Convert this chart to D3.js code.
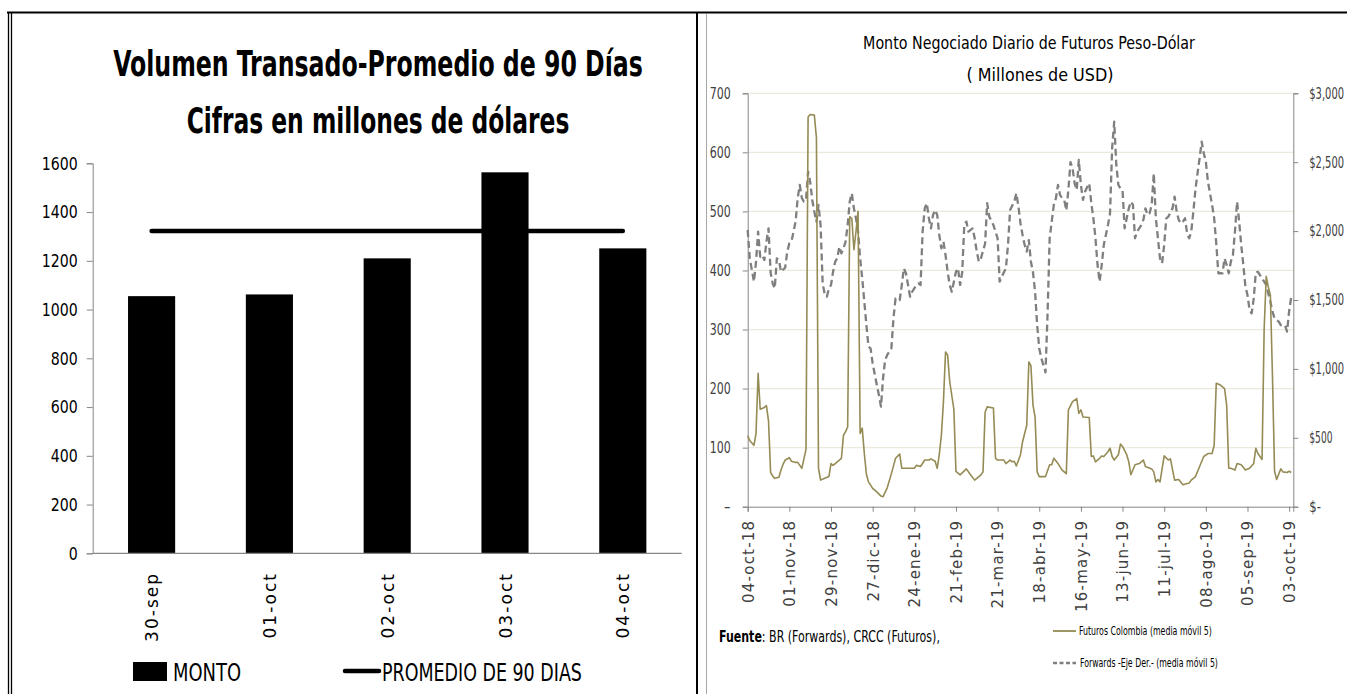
<!DOCTYPE html>
<html>
<head>
<meta charset="utf-8">
<script src="https://cdn.jsdelivr.net/npm/d3@7"></script>
<style>
  html, body { margin: 0; padding: 0; background: #fff; }
  svg { display: block; }
</style>
</head>
<body>
<svg id="chart" width="1347" height="694"></svg>
<script>
// ---- Volumen transado, últimos cinco días ----
const dias = ["30-sep", "01-oct", "02-oct", "03-oct", "04-oct"];
const monto = [1055, 1062, 1210, 1563, 1251];
const promedio90 = [1322, 1322, 1322, 1322, 1322];
const ticksVolumen = [0, 200, 400, 600, 800, 1000, 1200, 1400, 1600];

// ---- Futuros peso-dólar vs forwards (media móvil 5), por sesión ----
const sesionTicks = [0, 20, 40, 60, 80, 100, 120, 140, 160, 180, 200, 220, 240, 260];
const fechaTicks = ["04-oct-18", "01-nov-18", "29-nov-18", "27-dic-18", "24-ene-19", "21-feb-19",
  "21-mar-19", "18-abr-19", "16-may-19", "13-jun-19", "11-jul-19", "08-ago-19", "05-sep-19", "03-oct-19"];
const ticksIzq = [0, 100, 200, 300, 400, 500, 600, 700];
const ticksDer = [0, 500, 1000, 1500, 2000, 2500, 3000];

const futurosSesion = [0,1,2,3,4,5,6,8,9,10,11,12,13,15,16,17,18,20,21,23,24,26,28,29,30,32,33,34,35,37,39,40,41,43,45,46,47,48,49,50,51,52,53,54,55,56,57,58,60,62,64,65,67,69,71,73,74,80,81,83,85,87,88,90,91,92,93,94,95,96,97,99,100,102,105,107,109,112,113,114,115,118,119,120,123,124,126,127,128,129,131,132,134,135,136,137,138,139,140,143,145,146,147,149,151,153,154,156,158,159,160,161,164,165,166,167,169,170,171,173,174,175,176,178,179,180,182,183,184,186,188,190,191,194,195,196,197,198,200,202,203,205,207,209,212,213,215,217,219,221,223,224,225,227,229,230,231,232,234,235,237,239,241,243,244,245,246,247,248,249,250,251,252,253,254,256,257,259,260,261];
const futurosMonto = [120,112,108,104,124,226,165,168,171,145,58,52,48,50,62,72,79,83,77,75,75,65,97,660,664,663,625,65,45,48,51,73,70,76,82,121,127,135,491,488,435,466,500,124,133,90,55,42,31,25,18,17,32,56,82,89,65,65,70,68,79,79,81,77,65,88,121,178,262,257,212,165,60,54,64,54,45,54,59,160,169,167,82,79,79,73,79,76,77,69,88,110,138,245,239,172,152,59,51,51,71,71,82,73,62,56,164,178,183,158,164,152,151,85,86,76,82,86,85,93,99,85,79,88,106,102,88,76,54,71,73,79,68,64,59,42,46,42,86,79,81,45,46,37,40,45,51,68,85,90,90,104,209,206,200,172,65,65,62,73,71,62,65,73,99,90,85,80,300,390,372,358,220,60,46,64,59,58,60,58];

const forwardsSesion = [0,1,3,4,5,6,7,8,9,10,11,12,13,14,15,16,18,19,20,21,22,23,24,25,26,27,28,29,30,31,32,33,34,35,36,37,38,39,40,41,42,43,44,45,46,47,48,49,50,51,52,53,54,55,56,57,58,59,60,62,63,64,65,66,67,69,70,71,73,74,75,76,77,78,79,81,82,83,84,85,86,87,88,89,90,91,92,93,94,95,96,97,98,100,101,102,103,104,105,106,108,109,110,111,112,114,115,116,118,120,121,122,124,125,126,128,129,130,131,132,133,134,135,136,137,138,139,140,141,142,143,144,145,146,147,148,149,150,151,152,153,154,155,156,157,158,159,160,161,162,163,164,165,166,167,168,169,170,171,172,173,174,175,176,177,178,179,180,181,182,183,184,185,186,187,188,189,190,191,192,193,194,195,196,197,198,199,200,201,202,204,205,206,207,208,209,210,211,212,213,214,215,216,217,218,219,220,221,223,224,225,226,228,229,230,231,232,233,234,235,236,237,238,239,240,241,242,243,244,245,246,247,248,249,250,251,252,253,254,255,256,258,259,260,261];
const forwardsMonto = [2008,1802,1633,1778,1996,1814,1826,1790,1923,2020,1700,1620,1584,1802,1790,1705,1735,1851,1911,1923,1996,2069,2238,2335,2240,2214,2226,2431,2359,2226,2141,2069,2190,2044,1620,1540,1524,1584,1609,1705,1778,1802,1887,1839,1875,1923,2044,2214,2274,2165,2093,1996,1802,1657,1488,1318,1161,1149,1040,883,811,726,932,1065,1101,1149,1367,1512,1500,1609,1730,1694,1609,1524,1560,1609,1621,1609,1996,2165,2202,2093,2020,2117,2153,2117,1972,1875,1923,1826,1705,1609,1560,1705,1730,1609,1700,2044,2069,1996,2020,1948,1851,1778,1802,1910,2202,2105,2044,1948,1633,1669,1730,1900,2153,2214,2274,2180,2056,1972,1899,1851,1935,1778,1700,1560,1318,1149,1077,1028,975,1400,1948,2069,2190,2238,2335,2262,2238,2226,2150,2300,2500,2456,2347,2299,2516,2335,2226,2286,2320,2347,2202,2093,1948,1754,1633,1754,1900,1972,2044,2130,2600,2794,2480,2335,2310,2299,2020,2093,2165,2214,2190,1948,1996,2020,2044,2081,2165,2117,2129,2190,2419,2093,1948,1800,1766,1900,2093,2105,2165,2250,2141,2081,2056,2069,2093,1984,1948,1996,2141,2300,2419,2528,2649,2565,2504,2359,2190,2093,1911,1694,1694,1802,1754,1694,1778,1826,2000,2214,2069,1899,1754,1600,1536,1427,1403,1512,1700,1705,1681,1657,1633,1609,1548,1488,1415,1367,1355,1343,1318,1318,1270,1420,1520];

const NARROW = "'Liberation Sans Narrow','Arial Narrow','DejaVu Sans Condensed',sans-serif";
const WIDE = "'DejaVu Sans',Verdana,sans-serif";

const svg = d3.select("#chart");

// Place a text at (x, y) and squeeze it horizontally to the given width,
// so the condensed look holds whatever face the system picks.
function fitText(sel, x, y, width) {
  sel.attr("x", 0).attr("y", 0);
  const w = sel.node().getComputedTextLength();
  const s = w > 0 ? width / w : 1;
  sel.attr("transform", `translate(${x},${y}) scale(${s},1)`);
  return sel;
}

// ---------- panel frames ----------
const frame = svg.append("g").attr("class", "frames");
frame.append("line").attr("x1", 7).attr("x2", 1347).attr("y1", 12.5).attr("y2", 12.5)
  .attr("stroke", "#000").attr("stroke-width", 2);
[8.5, 11.5].forEach(x => frame.append("line").attr("x1", x).attr("x2", x).attr("y1", 12).attr("y2", 694)
  .attr("stroke", "#000").attr("stroke-width", 1.3));
frame.append("line").attr("x1", 697).attr("x2", 697).attr("y1", 12).attr("y2", 694)
  .attr("stroke", "#000").attr("stroke-width", 2);
frame.append("line").attr("x1", 706.5).attr("x2", 706.5).attr("y1", 14).attr("y2", 694)
  .attr("stroke", "#a6a6a6").attr("stroke-width", 1);

// ---------- left panel: bars + 90-day average ----------
const left = svg.append("g").attr("class", "volumen");

fitText(left.append("text").attr("text-anchor", "middle")
  .attr("font-family", NARROW).attr("font-weight", "bold").attr("font-size", 36)
  .text("Volumen Transado-Promedio de 90 Días"), 378, 76, 530);
fitText(left.append("text").attr("text-anchor", "middle")
  .attr("font-family", NARROW).attr("font-weight", "bold").attr("font-size", 36)
  .text("Cifras en millones de dólares"), 378, 133, 383);

const xVol = d3.scaleBand().domain(dias).range([92.7, 681.7]).padding(0);
const yVol = d3.scaleLinear().domain([0, 1600]).range([553.3, 163.3]);
const barW = xVol.bandwidth() * 0.4;

left.selectAll("rect.bar").data(dias).join("rect").attr("class", "bar")
  .attr("x", d => xVol(d) + xVol.bandwidth() / 2 - barW / 2)
  .attr("width", barW)
  .attr("y", (d, i) => yVol(monto[i]))
  .attr("height", (d, i) => yVol(0) - yVol(monto[i]))
  .attr("fill", "#000");

const yAxVol = left.append("g").attr("transform", "translate(92.7,0)")
  .call(d3.axisLeft(yVol).tickValues(ticksVolumen).tickSize(6).tickPadding(9).tickFormat(d3.format("d")));
yAxVol.select(".domain").attr("stroke", "#868686");
yAxVol.selectAll(".tick line").attr("stroke", "#868686");
yAxVol.selectAll(".tick text").attr("font-family", NARROW).attr("font-size", 18.5).attr("fill", "#000")
  .each(function (d) { fitText(d3.select(this), -15, 0, String(d).length * 9); });

left.append("line").attr("x1", 92.7).attr("x2", 681.7).attr("y1", yVol(0)).attr("y2", yVol(0))
  .attr("stroke", "#868686").attr("stroke-width", 1.2);

const lineProm = d3.line().x((d, i) => xVol(dias[i]) + xVol.bandwidth() / 2).y(d => yVol(d));
left.append("path").datum(promedio90).attr("d", lineProm)
  .attr("fill", "none").attr("stroke", "#000").attr("stroke-width", 4.5).attr("stroke-linecap", "round");

left.selectAll("text.dia").data(dias).join("text").attr("class", "dia")
  .attr("transform", d => `translate(${xVol(d) + xVol.bandwidth() / 2 + 6.5},572) rotate(-90)`)
  .attr("text-anchor", "end").attr("font-family", WIDE).attr("font-size", 17)
  .attr("letter-spacing", 2).attr("fill", "#000").text(d => d);

// legend
left.append("rect").attr("x", 133).attr("y", 662).attr("width", 34).attr("height", 19).attr("fill", "#000");
fitText(left.append("text").attr("font-family", NARROW).attr("font-size", 24).text("MONTO"), 173, 681, 68);
left.append("line").attr("x1", 345).attr("x2", 379).attr("y1", 671).attr("y2", 671)
  .attr("stroke", "#000").attr("stroke-width", 4.5).attr("stroke-linecap", "round");
fitText(left.append("text").attr("font-family", NARROW).attr("font-size", 24)
  .text("PROMEDIO DE 90 DIAS"), 382, 681, 200);

// ---------- right panel: futures vs forwards ----------
const right = svg.append("g").attr("class", "futuros");

fitText(right.append("text").attr("text-anchor", "middle")
  .attr("font-family", NARROW).attr("font-size", 17.5).attr("fill", "#000")
  .text("Monto Negociado Diario de Futuros Peso-Dólar"), 1029, 49, 332);
fitText(right.append("text").attr("text-anchor", "middle")
  .attr("font-family", NARROW).attr("font-size", 17.5).attr("fill", "#000")
  .text("( Millones de USD)"), 1040, 81, 147);

const x = d3.scaleLinear().domain([0, 262]).range([747.7, 1293.3]);
const yIzq = d3.scaleLinear().domain([0, 700]).range([506.7, 93.3]);
const yDer = d3.scaleLinear().domain([0, 3000]).range([506.7, 93.3]);

// horizontal gridlines from the left axis
right.append("g").selectAll("line").data(ticksIzq.filter(d => d > 0)).join("line")
  .attr("x1", 747.7).attr("x2", 1293.3)
  .attr("y1", d => yIzq(d)).attr("y2", d => yIzq(d))
  .attr("stroke", "#ebe8dc").attr("stroke-width", 1.2);

const axGray = "#868686";
const txtGray = "#404040";
const fmtIzq = d => d === 0 ? "-" : String(d);
const fmtDer = d => d === 0 ? "$-" : "$" + d3.format(",")(d);

const axIzq = right.append("g").attr("transform", "translate(747.7,0)")
  .call(d3.axisLeft(yIzq).tickValues(ticksIzq).tickSize(5).tickPadding(12).tickFormat(fmtIzq));
const axDer = right.append("g").attr("transform", "translate(1293.3,0)")
  .call(d3.axisRight(yDer).tickValues(ticksDer).tickSize(5).tickPadding(11).tickFormat(fmtDer));
const axX = right.append("g").attr("transform", "translate(0,506.7)")
  .call(d3.axisBottom(x).tickValues(sesionTicks).tickSize(5).tickFormat((d, i) => fechaTicks[i]));

[axIzq, axDer, axX].forEach(a => {
  a.select(".domain").attr("stroke", axGray);
  a.selectAll(".tick line").attr("stroke", axGray);
});
[axIzq, axDer].forEach(a => a.selectAll(".tick text")
  .attr("font-family", NARROW).attr("font-size", 15).attr("fill", txtGray));
axIzq.selectAll(".tick text")
  .each(function (d) { fitText(d3.select(this), -17, 0, fmtIzq(d).length * 7); });
axDer.selectAll(".tick text")
  .each(function (d) { fitText(d3.select(this), 16, 0, fmtDer(d).length * 5.8); });
axX.selectAll(".tick text")
  .attr("transform", "rotate(-90)").attr("text-anchor", "end")
  .attr("x", -13).attr("y", 0).attr("dy", "0.36em")
  .attr("font-family", WIDE).attr("font-size", 15).attr("letter-spacing", 1.2).attr("fill", txtGray);

const lineFwd = d3.line().x((d, i) => x(forwardsSesion[i])).y(d => yDer(d));
right.append("path").datum(forwardsMonto).attr("d", lineFwd)
  .attr("fill", "none").attr("stroke", "#7f7f7f").attr("stroke-width", 2.3)
  .attr("stroke-dasharray", "7,4").attr("stroke-linejoin", "round");

const lineFut = d3.line().x((d, i) => x(futurosSesion[i])).y(d => yIzq(d));
right.append("path").datum(futurosMonto).attr("d", lineFut)
  .attr("fill", "none").attr("stroke", "#958b55").attr("stroke-width", 1.6)
  .attr("stroke-linejoin", "round");

// source note
const fuente = right.append("text").attr("font-family", NARROW).attr("font-size", 15.5).attr("fill", "#000");
fuente.append("tspan").attr("font-weight", "bold").text("Fuente");
fuente.append("tspan").text(": BR (Forwards), CRCC (Futuros),");
fitText(fuente, 719, 642, 221);

// legend
right.append("line").attr("x1", 1053).attr("x2", 1076).attr("y1", 631).attr("y2", 631)
  .attr("stroke", "#958b55").attr("stroke-width", 1.8);
fitText(right.append("text").attr("font-family", NARROW).attr("font-size", 11.5).attr("fill", "#000")
  .text("Futuros Colombia (media móvil 5)"), 1079, 635, 133);
right.append("line").attr("x1", 1053).attr("x2", 1076).attr("y1", 663).attr("y2", 663)
  .attr("stroke", "#7f7f7f").attr("stroke-width", 2.3).attr("stroke-dasharray", "4,2.5");
fitText(right.append("text").attr("font-family", NARROW).attr("font-size", 11.5).attr("fill", "#000")
  .text("Forwards -Eje Der.-  (media móvil 5)"), 1080, 667, 138);
</script>
</body>
</html>
